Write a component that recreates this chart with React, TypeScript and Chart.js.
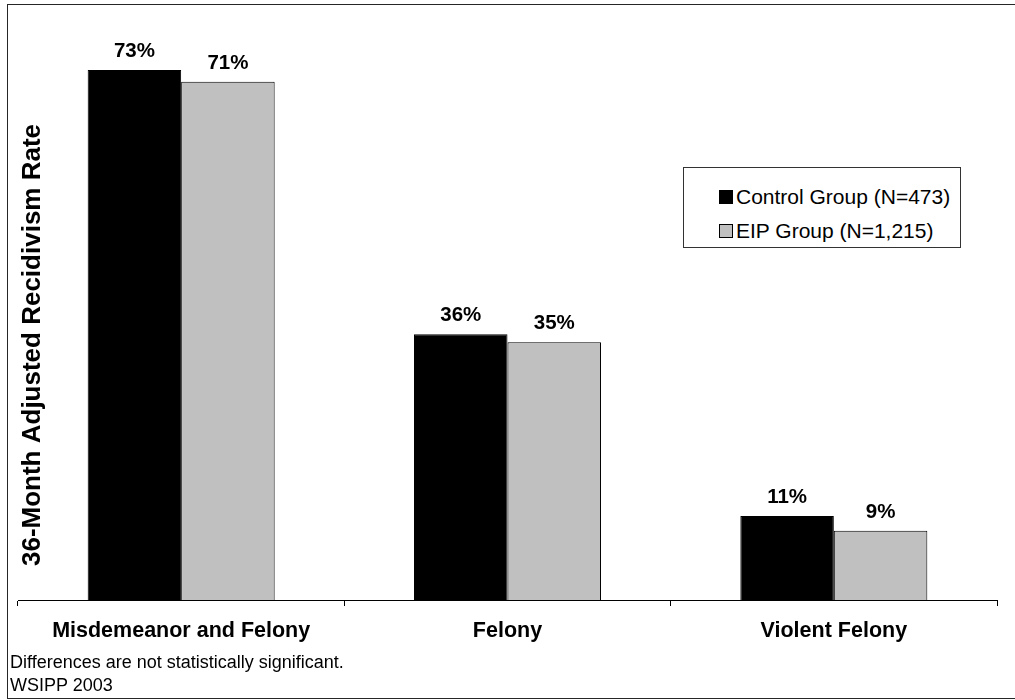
import React, { useEffect, useRef } from "react";
import { Chart, registerables } from "chart.js";

Chart.register(...registerables);

const categories = ["Misdemeanor and Felony", "Felony", "Violent Felony"];
const controlValues = [72.6, 36.4, 11.5];
const eipValues = [71.0, 35.3, 9.5];
const controlLabels = ["73%", "36%", "11%"];
const eipLabels = ["71%", "35%", "9%"];
const seriesNames = ["Control Group (N=473)", "EIP Group (N=1,215)"];
const yTitle = "36-Month Adjusted Recidivism Rate";
const footnotes = ["Differences are not statistically significant.", "WSIPP 2003"];

const FONT = "'Liberation Sans', Arial, sans-serif";

const valueLabelPlugin = {
  id: "valueLabels",
  afterDatasetsDraw(chart: any) {
    const ctx = chart.ctx;
    const labelSets = [controlLabels, eipLabels];
    ctx.save();
    ctx.font = `bold 20.5px ${FONT}`;
    ctx.fillStyle = "#000";
    ctx.textAlign = "center";
    ctx.textBaseline = "alphabetic";
    chart.data.datasets.forEach((_: any, di: number) => {
      const meta = chart.getDatasetMeta(di);
      meta.data.forEach((el: any, i: number) => {
        ctx.fillText(labelSets[di][i], el.x, el.y - 13);
      });
    });
    ctx.restore();
  },
};

const yTitlePlugin = {
  id: "yTitleFixed",
  afterDraw(chart: any) {
    const ctx = chart.ctx;
    ctx.save();
    ctx.translate(33, 345);
    ctx.rotate(-Math.PI / 2);
    ctx.font = `bold 26px ${FONT}`;
    ctx.fillStyle = "#000";
    ctx.textAlign = "center";
    ctx.textBaseline = "middle";
    ctx.fillText(yTitle, 0, 0);
    ctx.restore();
  },
};

export default function App() {
  const canvasRef = useRef<HTMLCanvasElement | null>(null);

  useEffect(() => {
    if (!canvasRef.current) return;
    const chart = new Chart(canvasRef.current, {
      type: "bar",
      data: {
        labels: categories,
        datasets: [
          {
            label: seriesNames[0],
            data: controlValues,
            backgroundColor: "#000000",
            borderColor: "#000000",
            borderWidth: 1,
            categoryPercentage: 0.573,
            barPercentage: 1.0,
          },
          {
            label: seriesNames[1],
            data: eipValues,
            backgroundColor: "#C0C0C0",
            borderColor: "#000000",
            borderWidth: 1,
            categoryPercentage: 0.573,
            barPercentage: 1.0,
          },
        ],
      },
      options: {
        responsive: false,
        animation: false,
        layout: { padding: { left: 18, right: 18, top: 16, bottom: 0 } },
        plugins: {
          legend: { display: false },
          tooltip: { enabled: false },
        },
        scales: {
          x: {
            grid: {
              display: true,
              drawOnChartArea: false,
              drawTicks: true,
              tickLength: 6,
              color: "#000",
              offset: true,
            },
            border: { display: true, color: "#000", width: 1 },
            ticks: {
              color: "#000",
              font: { family: FONT, size: 21.5, weight: "bold" },
              padding: 12,
              maxRotation: 0,
              autoSkip: false,
            },
            afterFit: (scale: any) => {
              scale.height = 100;
            },
          },
          y: {
            display: false,
            min: 0,
            max: 80,
          },
        },
      },
      plugins: [valueLabelPlugin, yTitlePlugin],
    } as any);
    return () => chart.destroy();
  }, []);

  return (
    <div
      style={{
        position: "fixed",
        left: 0,
        top: 0,
        width: 1015,
        height: 700,
        overflow: "hidden",
        background: "#fff",
        fontFamily: FONT,
      }}
    >
      <canvas ref={canvasRef} width={1015} height={700} style={{ position: "absolute", left: 0, top: 0 }} />
      <div
        style={{
          position: "absolute",
          left: 7,
          top: 4,
          width: 1030,
          height: 693,
          border: "1px solid #262626",
          pointerEvents: "none",
        }}
      />
      <div
        style={{
          position: "absolute",
          left: 683,
          top: 167,
          width: 276,
          height: 79,
          border: "1px solid #333",
          background: "#fff",
        }}
      >
        {seriesNames.map((name, i) => (
          <div
            key={name}
            style={{
              position: "absolute",
              left: 35,
              top: i === 0 ? 17 : 51,
              height: 24,
              display: "flex",
              alignItems: "center",
              fontSize: 21,
              color: "#000",
              whiteSpace: "nowrap",
              lineHeight: "24px",
            }}
          >
            <span
              style={{
                display: "inline-block",
                width: 12,
                height: 12,
                background: i === 0 ? "#000" : "#C0C0C0",
                border: "1px solid #000",
                marginRight: 3,
              }}
            />
            {name}
          </div>
        ))}
      </div>
      <div
        style={{
          position: "absolute",
          left: 10,
          top: 651,
          fontSize: 18,
          lineHeight: "23px",
          color: "#000",
          whiteSpace: "nowrap",
        }}
      >
        {footnotes.map((t) => (
          <div key={t}>{t}</div>
        ))}
      </div>
    </div>
  );
}
